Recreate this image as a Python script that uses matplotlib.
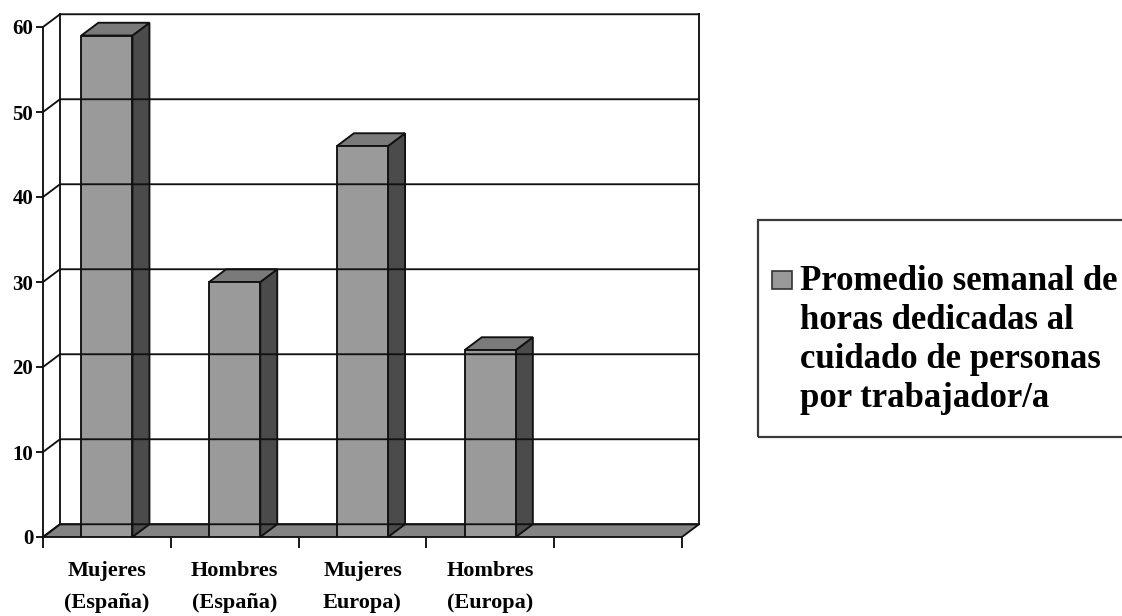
import matplotlib.pyplot as plt
from matplotlib.patches import Polygon, Rectangle

# hours per week spent caring for people, per worker
categories = ["Mujeres\n(España)", "Hombres\n(España)", "Mujeres\nEuropa)", "Hombres\n(Europa)", ""]
horas = [59, 30, 46, 22]
y_ticks = [0, 10, 20, 30, 40, 50, 60]
serie = ["Promedio semanal de", "horas dedicadas al", "cuidado de personas", "por trabajador/a"]

FRONT = "#9a9a9a"
TOP = "#7a7a7a"
SIDE = "#4b4b4b"
FLOOR = "#838383"
EDGE = "#111111"
DX, DY = 0.133, 1.5   # depth of the fake 3d box, in data units
BAR_W = 0.4
LW = 1.35

plt.rcParams['font.family'] = ['Liberation Serif', 'DejaVu Serif']
plt.rcParams['font.weight'] = 'bold'

W, H = 1122, 616
fig = plt.figure(figsize=(W / 100, H / 100), dpi=100)

# axes placed in pixels: origin of the front plane at (43, 537)
x0, y0 = 43, 537
px_cat, px_val = 127.8, 8.5
ax = fig.add_axes([x0 / W, (H - y0) / H, 680 / W, 530 / H])
ax.set_xlim(0, 680 / px_cat)
ax.set_ylim(0, 530 / px_val)

n = len(categories)
ymax = y_ticks[-1]

# back wall gridlines and the diagonals on the left wall
for v in y_ticks:
    ax.plot([0, DX, n + DX], [v, v + DY, v + DY], color=EDGE, lw=LW,
            solid_joinstyle='miter', clip_on=False)
ax.plot([DX, DX], [DY, ymax + DY], color=EDGE, lw=LW)
ax.plot([n + DX, n + DX], [DY, ymax + DY], color=EDGE, lw=LW)

# floor
ax.add_patch(Polygon([(0, 0), (n, 0), (n + DX, DY), (DX, DY)],
                     fc=FLOOR, ec=EDGE, lw=LW, joinstyle='miter', clip_on=False))

# bars
for i, v in enumerate(horas):
    c = i + 0.5
    l, r = c - BAR_W / 2, c + BAR_W / 2
    ax.add_patch(Polygon([(r, 0), (r + DX, DY), (r + DX, v + DY), (r, v)],
                         fc=SIDE, ec=EDGE, lw=LW, joinstyle='miter'))
    ax.add_patch(Polygon([(l, v), (l + DX, v + DY), (r + DX, v + DY), (r, v)],
                         fc=TOP, ec=EDGE, lw=LW, joinstyle='miter'))
    ax.add_patch(Rectangle((l, 0), BAR_W, v, fc=FRONT, ec=EDGE, lw=LW,
                           joinstyle='miter'))

for s in ['top', 'right', 'bottom']:
    ax.spines[s].set_visible(False)
ax.spines['left'].set_bounds(0, ymax)
ax.spines['left'].set_linewidth(LW)
ax.spines['left'].set_color(EDGE)

ax.set_yticks(y_ticks)
ax.tick_params(axis='y', length=5, width=LW, pad=2, labelsize=15, color=EDGE)

ax.set_xticks(range(n + 1))
ax.set_xticklabels([])
ax.set_xticks([i + 0.5 for i in range(n)], categories, minor=True)
ax.tick_params(axis='x', which='major', length=8, width=LW, color=EDGE)
ax.tick_params(axis='x', which='minor', length=0, pad=17, labelsize=16)
for t in ax.get_xticklabels(minor=True):
    t.set_linespacing(1.8)

# legend box, running off the right edge
fig.add_artist(Rectangle((758 / W, (H - 437) / H), (W - 758 + 20) / W, 217 / H,
                         transform=fig.transFigure, fill=False, ec="#3a3a3a", lw=1.6))
fig.add_artist(Rectangle((772 / W, (H - 289) / H), 20 / W, 18 / H,
                         transform=fig.transFigure, fc=FRONT, ec="#333333", lw=1.2))
for k, line in enumerate(serie):
    fig.text(800 / W, (H - (290 + 39 * k)) / H, line, fontsize=25,
             va='baseline', ha='left')

fig.savefig("out.png", dpi=100)
